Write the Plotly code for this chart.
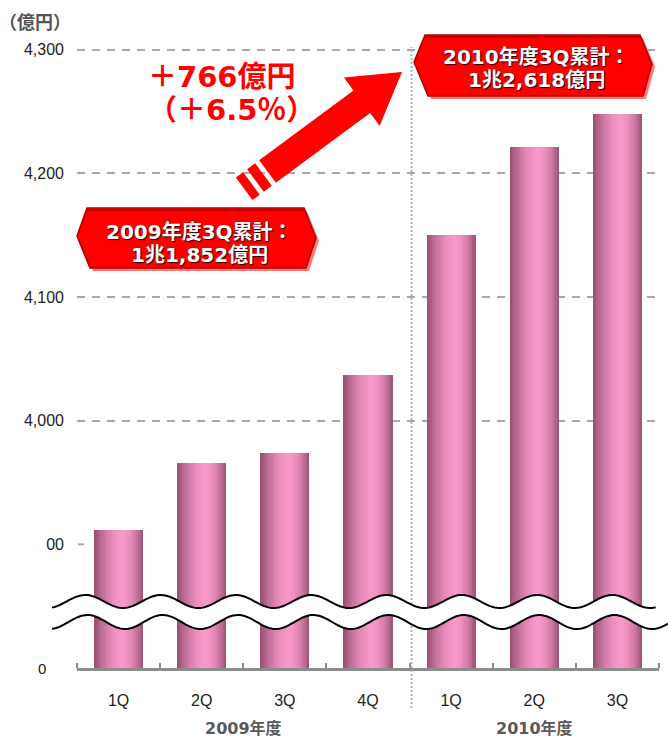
import numpy as np
import plotly.graph_objects as go

# ---- data -------------------------------------------------------------
quarters = ["1Q", "2Q", "3Q", "4Q", "1Q", "2Q", "3Q"]
fiscal_years = ["2009年度", "2010年度"]
year_centers = [1.5, 5.0]
sales = [3912, 3966, 3974, 4037, 4150, 4221, 4248]      # 億円
axis_floor = 3800
y_tick_vals = [3900, 4000, 4100, 4200, 4300]
y_tick_text = ["00", "4,000", "4,100", "4,200", "4,300"]
grid_vals = [4000, 4100, 4200, 4300]
unit_label = "（億円）"
prev_total = ["2009年度3Q累計：", "1兆1,852億円"]
curr_total = ["2010年度3Q累計：", "1兆2,618億円"]
growth = ["＋766億円", "（＋6.5％）"]

# ---- page geometry ----------------------------------------------------
W, H = 668, 737
ML, MR, MT, MB = 77, 9, 25, 69
PW, PH = W - ML - MR, H - MT - MB


def px(x):
    return (x - ML) / PW


def py(y):
    return (H - MB - y) / PH


def path_from(points, close=True):
    s = "M " + " L ".join(f"{px(x):.5f},{py(y):.5f}" for x, y in points)
    return s + (" Z" if close else "")


FONT = "Liberation Sans, Arial, Noto Sans CJK JP, sans-serif"
BOLD_FONT = "DejaVu Sans, Noto Sans CJK JP, sans-serif"
CJK_FONT = "Noto Sans CJK JP, sans-serif"
RED = "#ff0000"

fig = go.Figure()

# ---- cylinder-shaded bars (vertical strips layered left to right) ----
xs = list(range(len(sales)))
bar_w = 0.59
n_strips = 28
dark = np.array([148, 78, 112])
light = np.array([249, 152, 202])
peak = 0.58
for i in range(n_strips):
    t = (i + 0.5) / n_strips
    span = peak if t < peak else (1 - peak) * 1.05
    f = max(0.0, 1 - abs((t - peak) / span) ** 1.7)
    c = dark + (light - dark) * f
    fig.add_trace(go.Bar(
        x=xs, y=[v - axis_floor for v in sales], base=axis_floor,
        width=bar_w * (n_strips - i) / n_strips,
        offset=-bar_w / 2 + i * bar_w / n_strips,
        marker=dict(color=f"rgb({int(c[0])},{int(c[1])},{int(c[2])})", line_width=0),
        hoverinfo="skip", showlegend=False,
    ))

shapes = []

# divider between fiscal years
shapes.append(dict(type="line", xref="paper", yref="paper",
                   x0=px(411.5), x1=px(411.5), y0=py(708), y1=py(47),
                   line=dict(color="#b4b4b4", width=2, dash="2px,2px"), layer="above"))

# short stub at the 3,900 level
shapes.append(dict(type="line", xref="paper", yref="y",
                   x0=px(78), x1=px(84), y0=3900, y1=3900,
                   line=dict(color="#a8a8a8", width=2)))

# axis break: white band between two wavy lines
wx = np.linspace(52, 668, 300)
upper = 601.5 + 6.5 * np.cos(2 * np.pi * (wx - 123) / 75.3)
lower = 622.0 + 7.0 * np.cos(2 * np.pi * (wx - 125) / 75.3)
band = list(zip(wx, upper)) + list(zip(wx[::-1], lower[::-1]))
shapes.append(dict(type="path", xref="paper", yref="paper", path=path_from(band),
                   fillcolor="white", line=dict(width=0), layer="above"))
up_mask = wx <= 657
shapes.append(dict(type="path", xref="paper", yref="paper",
                   path=path_from(list(zip(wx[up_mask], upper[up_mask])), close=False),
                   line=dict(color="black", width=2), layer="above"))
shapes.append(dict(type="path", xref="paper", yref="paper",
                   path=path_from(list(zip(wx, lower)), close=False),
                   line=dict(color="black", width=2), layer="above"))

# growth arrow
tip = np.array([402.0, 72.0])
tail = np.array([267.5, 171.5])
u = (tip - tail) / np.linalg.norm(tip - tail)
n = np.array([-u[1], u[0]])
if n[1] < 0:
    n = -n
head_len, head_half, shaft_half = 50, 30, 14
base = tip - head_len * u
arrow = [tail - shaft_half * n, base - shaft_half * n, base - head_half * n, tip,
         base + head_half * n, base + shaft_half * n, tail + shaft_half * n]
shapes.append(dict(type="path", xref="paper", yref="paper",
                   path=path_from([tuple(p) for p in arrow]),
                   fillcolor=RED, line=dict(width=0), layer="above"))
for a, b in [(5, 15), (20, 29)]:
    s0, s1 = tail - a * u, tail - b * u
    stripe = [s0 - shaft_half * n, s0 + shaft_half * n, s1 + shaft_half * n, s1 - shaft_half * n]
    shapes.append(dict(type="path", xref="paper", yref="paper",
                       path=path_from([tuple(p) for p in stripe]),
                       fillcolor=RED, line=dict(width=0), layer="above"))


# red banner callouts
def banner(pts):
    glow = [(x + 3, y + 3) for x, y in pts]
    shapes.append(dict(type="path", xref="paper", yref="paper", path=path_from(glow),
                       fillcolor="#ff7a7a", line=dict(width=0), layer="above"))
    shapes.append(dict(type="path", xref="paper", yref="paper", path=path_from(pts),
                       fillcolor=RED, line=dict(color="#b00000", width=1.5), layer="above"))
    top = [pts[0], pts[1], (pts[1][0] + 1, pts[1][1] + 3), (pts[0][0] - 1, pts[0][1] + 3)]
    shapes.append(dict(type="path", xref="paper", yref="paper", path=path_from(top),
                       fillcolor="#c40000", line=dict(width=0), layer="above"))


banner([(87, 208), (304, 208), (316, 238), (306, 268), (90, 268), (77, 236)])
banner([(425, 35), (640, 35), (652, 64), (643, 96), (428, 96), (414, 62)])

annotations = []


def note(text, x, y, size, color, family=FONT, bold=False, xanchor="center", shadow=None):
    font = dict(family=family, size=size, color=color, weight="bold" if bold else "normal")
    if shadow:
        font["shadow"] = shadow
    annotations.append(dict(text=text, xref="paper", yref="paper", x=px(x), y=py(y),
                            xanchor=xanchor, yanchor="middle", showarrow=False,
                            font=font, align="center"))


note(unit_label, -3, 21, 18, "#555555", family=CJK_FONT, bold=True, xanchor="left")
note("0", 48, 668, 15, "#222222", xanchor="right")
for label, cx in zip(fiscal_years, year_centers):
    annotations.append(dict(text=label, xref="x", yref="paper", x=cx, y=py(728),
                            xanchor="center", yanchor="middle", showarrow=False,
                            font=dict(family=BOLD_FONT, size=16, color="#595959",
                                      weight="bold")))
shadow = "1px 1px 1px #300000, 0px 0px 1px #300000"
for line, yy in zip(prev_total, [232, 255]):
    note(line, 199, yy, 20, "white", family=BOLD_FONT, bold=True, shadow=shadow)
for line, yy in zip(curr_total, [57, 80]):
    note(line, 536, yy, 20, "white", family=BOLD_FONT, bold=True, shadow=shadow)
for line, yy in zip(growth, [77, 110]):
    note(line, 146, yy, 29, RED, family=BOLD_FONT, bold=True, xanchor="left")

fig.update_layout(
    width=W, height=H, autosize=False,
    margin=dict(l=ML, r=MR, t=MT, b=MB, pad=0),
    paper_bgcolor="white", plot_bgcolor="white",
    barmode="overlay", bargap=0,
    font=dict(family=FONT, color="#222222"),
    shapes=shapes, annotations=annotations,
    xaxis=dict(
        range=[-0.5, len(sales) - 0.5], tickvals=xs, ticktext=quarters,
        ticks="", showgrid=False, zeroline=False,
        showline=True, linecolor="#8c8c8c", linewidth=2.5,
        tickfont=dict(size=16, color="#222222"), ticklabelstandoff=16,
        minor=dict(tickmode="linear", tick0=-0.5, dtick=1, ticks="inside",
                   ticklen=5, tickwidth=2, tickcolor="#8c8c8c", showgrid=False),
        fixedrange=True,
    ),
    yaxis=dict(
        range=[axis_floor, 4320], tickvals=y_tick_vals, ticktext=y_tick_text,
        ticks="", showgrid=False, zeroline=False, showline=False,
        tickfont=dict(size=16, color="#222222"), ticklabelstandoff=12,
        minor=dict(tickmode="array", tickvals=grid_vals, showgrid=True,
                   gridcolor="#a8a8a8", gridwidth=2, griddash="8px,7px", ticks=""),
        fixedrange=True,
    ),
)

fig.write_html("out.html")
